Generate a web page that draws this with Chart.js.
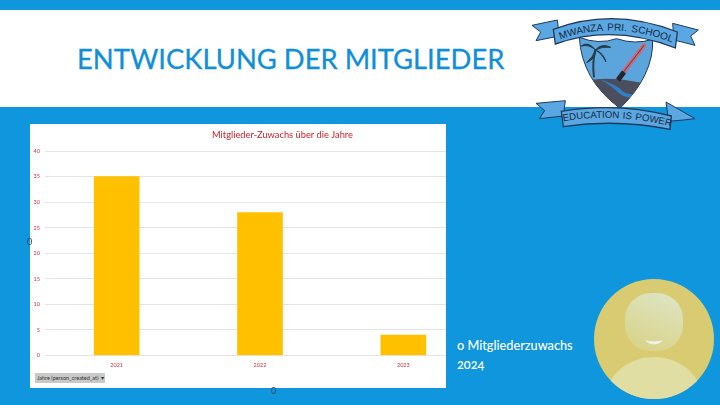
<!DOCTYPE html>
<html lang="de">
<head>
<meta charset="utf-8">
<title>Entwicklung der Mitglieder</title>
<script src="https://cdn.jsdelivr.net/npm/chart.js@4"></script>
<style>
  html, body { margin: 0; padding: 0; }
  body { width: 720px; height: 405px; position: relative; overflow: hidden; background: #0f96dc; font-family: Lato, "Open Sans", sans-serif; }
  #band { position: absolute; left: 0; top: 10px; width: 720px; height: 97px; background: #fff; }
  #heading { position: absolute; left: 77px; top: 42px; margin: 0; font-size: 27.4px; font-weight: 400; color: #0f8fd8; white-space: nowrap; -webkit-text-stroke: 0.3px #0f8fd8; }
  #chart-box { position: absolute; left: 30px; top: 124px; width: 416px; height: 264px; background: #fff; overflow: hidden; }
  #chart-wrap { position: absolute; left: 0; top: 0; width: 445px; height: 264px; }
  #filter { position: absolute; left: 5px; top: 249px; width: 70px; height: 10px; background: #c9c9c9; color: #333; font-size: 5.5px; line-height: 10px; padding-left: 2px; box-sizing: border-box; white-space: nowrap; }
  #note { position: absolute; left: 457px; top: 336px; color: #fff; font-size: 12.7px; line-height: 19px; font-weight: 500; font-feature-settings: "onum"; }
  .stray { position: absolute; color: #33475b; font-size: 9px; line-height: 9px; }
  svg { position: absolute; }
</style>
</head>
<body>
<div id="band"></div>
<h1 id="heading">ENTWICKLUNG DER MITGLIEDER</h1>

<!-- Schulwappen -->
<svg style="left:520px;top:0" width="200" height="135" viewBox="0 0 600 405">
  <defs>
    <path id="arc-top" d="M78 136 Q280 42 498 146"/>
    <path id="arc-bottom" d="M104 368 Q290 332 478 386"/>
    <clipPath id="shield-clip"><path d="M178 112 Q235 135 290 116 Q345 135 398 118 Q402 225 300 325 Q185 240 178 112Z"/></clipPath>
  </defs>
  <path d="M112 60 L36 76 L62 96 L48 122 L118 108Z" fill="#5aa7e2" stroke="#1e3a5f" stroke-width="3"/>
  <path d="M458 70 L535 90 L512 108 L525 136 L462 120Z" fill="#5aa7e2" stroke="#1e3a5f" stroke-width="3"/>
  <path d="M178 112 Q235 135 290 116 Q345 135 398 118 Q402 225 300 325 Q185 240 178 112Z" fill="#5ba4dc" stroke="#1e3a5f" stroke-width="3"/>
  <g clip-path="url(#shield-clip)">
    <path d="M190 245 Q260 225 380 252 L380 340 L190 340Z" fill="#4b4e5c"/>
    <path d="M240 238 Q290 255 310 275 Q330 288 372 280 L372 292 Q325 300 300 282 Q275 258 240 238Z" fill="#2f80c8"/>
  </g>
  <path d="M222 232 Q216 190 226 150" fill="none" stroke="#2a3f4a" stroke-width="6"/>
  <path d="M226 150 Q205 122 184 138 Q208 132 226 150 Q222 168 200 188 Q228 176 226 150 Q246 128 272 142 Q248 138 226 150 Q250 158 258 186 Q246 160 226 150Z" fill="#233c47" stroke="#233c47" stroke-width="3"/>
  <path d="M372 136 L306 222" stroke="#c9687a" stroke-width="13" stroke-linecap="round"/>
  <path d="M372 136 L306 222" stroke="#7c2f3a" stroke-width="3"/>
  <path d="M312 216 L294 240" stroke="#23272e" stroke-width="15"/>
  <path d="M100 88 Q280 20 472 96 L466 144 Q280 70 106 132Z" fill="#5aa7e2" stroke="#1e3a5f" stroke-width="4"/>
  <text font-family="'Liberation Sans', sans-serif" font-size="30" word-spacing="5" fill="#16293f"><textPath href="#arc-top" startOffset="50%" text-anchor="middle">MWANZA PRI. SCHOOL</textPath></text>
  <path d="M136 302 L48 310 L74 332 L58 356 L130 348Z" fill="#5aa7e2" stroke="#1e3a5f" stroke-width="3"/>
  <path d="M438 306 L525 356 L490 360 L446 364Z" fill="#5aa7e2" stroke="#1e3a5f" stroke-width="3"/>
  <path d="M124 334 Q290 306 454 348 L450 388 Q290 356 130 380Z" fill="#5aa7e2" stroke="#1e3a5f" stroke-width="4"/>
  <text font-family="'Liberation Sans', sans-serif" font-size="29" word-spacing="2" fill="#16293f"><textPath href="#arc-bottom" startOffset="50%" text-anchor="middle">EDUCATION IS POWER</textPath></text>
</svg>

<div id="chart-box">
  <div id="chart-wrap"><canvas id="chart-zuwachs"></canvas></div>
  <div id="filter">Jahre (person_created_at) &nbsp;▾</div>
</div>
<span class="stray" style="left:27px;top:237px">0</span>
<span class="stray" style="left:271px;top:386px">0</span>

<div id="note">o Mitgliederzuwachs<br>2024</div>

<!-- Profilbild-Platzhalter -->
<svg style="left:594px;top:279px" width="120" height="120" viewBox="0 0 120 120">
  <defs>
    <clipPath id="avatar-clip"><circle cx="60" cy="60" r="60"/></clipPath>
    <linearGradient id="head-fill" x1="0.7" y1="0" x2="0.3" y2="1">
      <stop offset="0" stop-color="#dde4c2"/><stop offset="1" stop-color="#d9d388"/>
    </linearGradient>
  </defs>
  <circle cx="60" cy="60" r="60" fill="#d9cb72"/>
  <rect x="31" y="14" width="58" height="58" rx="26" fill="url(#head-fill)"/>
  <path d="M52 62 Q60 68 68 62 Q60 64 52 62Z" fill="#f4f6f0" stroke="#eef1ea" stroke-width="1"/>
  <ellipse clip-path="url(#avatar-clip)" cx="60" cy="120" rx="48" ry="42" fill="#e0dea2"/>
</svg>

<script>
// Mitglieder-Zuwachs pro Jahr
const jahre = ['2021', '2022', '2023'];
const zuwachs = [35, 28, 4];
const yTicks = [0, 5, 10, 15, 20, 25, 30, 35, 40];

const textRot = '#c8323c';

// Titel sitzt etwas rechts von der Mitte
const titleShift = {
  id: 'titleShift',
  afterLayout(chart) {
    chart.titleBlock.left += 30;
    chart.titleBlock.right += 30;
  }
};

function renderChart() {
  const ctx = document.getElementById('chart-zuwachs').getContext('2d');
  return new Chart(ctx, {
    type: 'bar',
    data: {
      labels: jahre,
      datasets: [{ label: 'Zuwachs', data: zuwachs, backgroundColor: '#ffc000', barThickness: 45 }]
    },
    plugins: [titleShift],
    options: {
      responsive: true,
      maintainAspectRatio: false,
      animation: false,
      plugins: {
        legend: { display: false },
        tooltip: { enabled: false },
        title: {
          display: true,
          text: 'Mitglieder-Zuwachs über die Jahre',
          color: '#d0202a',
          font: { family: 'Lato', size: 9.3, weight: 'normal' },
          padding: { top: 5, bottom: 11 }
        }
      },
      scales: {
        x: {
          grid: { display: false },
          border: { display: false },
          ticks: { color: textRot, font: { family: 'Lato', size: 5.5 }, padding: -2, maxRotation: 0 },
          afterFit: s => { s.height = 32.5; }
        },
        y: {
          min: 0,
          max: 40,
          afterBuildTicks: s => { s.ticks = yTicks.map(v => ({ value: v })); },
          grid: { color: '#e4e4e4', lineWidth: 1, drawTicks: false },
          border: { display: false },
          ticks: { color: textRot, font: { family: 'Lato', size: 5.5 }, padding: 5 },
          afterFit: s => { s.width = 15; }
        }
      }
    }
  });
}

renderChart();
</script>
</body>
</html>
